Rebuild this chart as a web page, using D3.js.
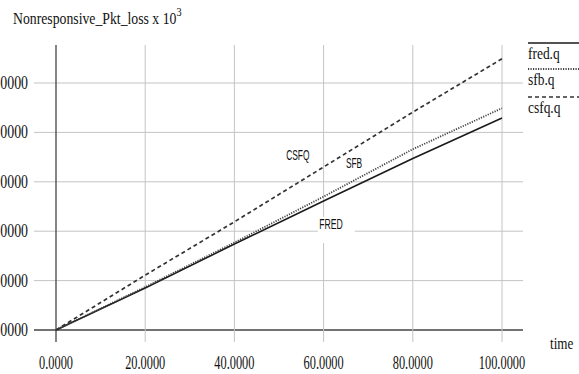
<script src="https://d3js.org/d3.v7.min.js"></script>
<style>
body {margin: 0; background: #fff;}
svg {display: block;}
</style>
<div id="chart"></div>
<script type="text/javascript">
// values (y in units of 10^3)
var time = [0, 20, 40, 60, 80, 100];
var fred = [0, 0.85, 1.74, 2.61, 3.47, 4.29];
var sfb  = [0, 0.87, 1.77, 2.70, 3.66, 4.49];
var csfq = [0, 1.11, 2.19, 3.30, 4.41, 5.49];
var xTicks = [0, 20, 40, 60, 80, 100];
var yTicks = [0, 1, 2, 3, 4, 5];
var seriesNames = ["fred.q", "sfb.q", "csfq.q"];
var curveNames = ["FRED", "SFB", "CSFQ"];

var width = 579;
var height = 374;
var serif = "'Liberation Serif', 'DejaVu Serif', serif";
var sans = "'Liberation Sans', Arial, sans-serif";

var x = d3.scaleLinear().domain([0, 100]).range([56, 502]);
var y = d3.scaleLinear().domain([0, 5]).range([330, 83]);

var svg = d3.select("#chart").append("svg")
	.attr("width", width)
	.attr("height", height);

// squeezed text, like the scanned original
function label(px, py, str, size, sx, family, anchor) {
	return svg.append("g")
		.attr("transform", "translate(" + px + "," + py + ")")
		.append("text")
		.attr("transform", "scale(" + sx + ",1)")
		.attr("text-anchor", anchor || "start")
		.attr("font-family", family)
		.attr("font-size", size)
		.attr("fill", "#111")
		.text(str);
}

// grid
svg.selectAll(".hgrid").data(yTicks).enter().append("line")
	.attr("x1", 34).attr("x2", 523)
	.attr("y1", function(d){ return y(d); })
	.attr("y2", function(d){ return y(d); })
	.attr("stroke", function(d){ return d == 0 ? "#444" : "#c4c4c4"; })
	.attr("stroke-width", function(d){ return d == 0 ? 1.3 : 1; });

svg.selectAll(".vgrid").data(xTicks).enter().append("line")
	.attr("x1", function(d){ return x(d); })
	.attr("x2", function(d){ return x(d); })
	.attr("y1", 45).attr("y2", 342)
	.attr("stroke", function(d){ return d == 0 ? "#444" : "#c4c4c4"; })
	.attr("stroke-width", function(d){ return d == 0 ? 1.3 : 1; });

// tick labels (the picture is cropped on the left, so only "0000" shows)
yTicks.forEach(function(d){
	label(28, y(d) + 6, d3.format(".4f")(d), 19, 0.73, serif, "end");
});
xTicks.forEach(function(d){
	label(x(d), 369, d3.format(".4f")(d), 19, 0.65, serif, "middle");
});
label(550, 349, "time", 17, 0.77, serif);

// title
var title = label(13, 24, "Nonresponsive_Pkt_loss x 10", 16, 0.86, serif);
title.append("tspan").attr("dy", -8).attr("font-size", 12).text("3");

// series
var series = [
	{name: "fred", values: fred, dash: null, color: "#1a1a1a", w: 1.6},
	{name: "sfb", values: sfb, dash: "1.2,1.3", color: "#444", w: 1.8},
	{name: "csfq", values: csfq, dash: "4,3", color: "#333", w: 1.7}
];

var line = d3.line()
	.x(function(d, i){ return x(time[i]); })
	.y(function(d){ return y(d); });

series.forEach(function(s){
	svg.append("path")
		.attr("d", line(s.values))
		.attr("fill", "none")
		.attr("stroke", s.color)
		.attr("stroke-width", s.w)
		.attr("stroke-dasharray", s.dash);
});

// in-plot labels
svg.append("rect")
	.attr("x", x(58.7)).attr("y", y(2.29))
	.attr("width", x(67) - x(58.7))
	.attr("height", y(1.76) - y(2.29))
	.attr("fill", "#fff");
label(x(59), y(2.15) + 5, curveNames[0], 14, 0.62, sans);
label(x(65), y(3.38) + 5, curveNames[1], 14, 0.6, sans);
label(x(51.6), y(3.54) + 5, curveNames[2], 14, 0.6, sans);

// legend on the right
var legendY = [43, 69, 97];
series.forEach(function(s, i){
	svg.append("line")
		.attr("x1", 528).attr("x2", 579)
		.attr("y1", legendY[i]).attr("y2", legendY[i])
		.attr("stroke", s.color)
		.attr("stroke-width", s.w)
		.attr("stroke-dasharray", s.dash);
	label(528, legendY[i] + 16, seriesNames[i], 17, 0.79, serif);
});
</script>
